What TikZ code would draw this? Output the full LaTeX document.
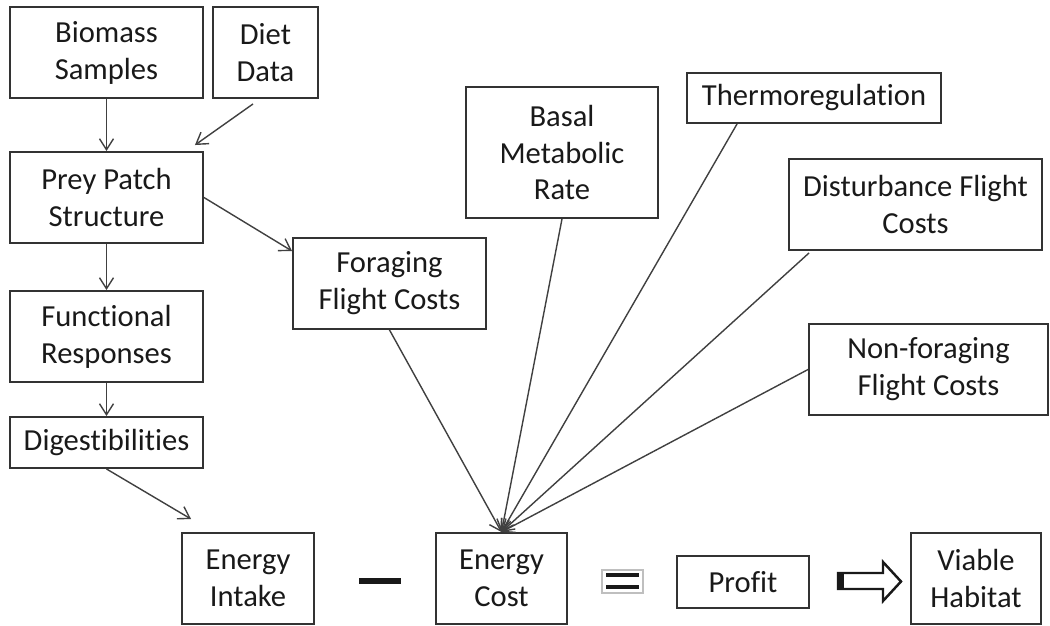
\documentclass[tikz,border=0pt]{standalone}
\usepackage{fontspec}
\setmainfont{Carlito}[Ligatures=NoCommon]
\usetikzlibrary{arrows.meta}

\begin{document}
\begin{tikzpicture}[x=0.2mm, y=-0.2mm,
        box/.style={draw=black!80, line width=1.1pt, inner sep=0pt, align=center,
            minimum height=18.2mm, text=black!90, font=\fontsize{17.4}{21}\selectfont},
        link/.style={color=black!75, line width=0.8pt,
            -{Straight Barb[length=2.2mm,width=2.8mm]}}]
        \useasboundingbox (0,0) rectangle (1050,626);

        % Define data and intake boxes
        \node[box, minimum width=38.6mm] (Biomass) at (106.5,52.5) {Biomass\\Samples};
        \node[box, minimum width=21mm] (Diet) at (265.5,52.5) {Diet\\Data};
        \node[box, minimum width=38.6mm] (Prey) at (106.5,197.5) {Prey Patch\\Structure};
        \node[box, minimum width=38.6mm] (Func) at (106.5,336.5) {Functional\\Responses};
        \node[box, minimum width=38.6mm, minimum height=10.2mm] (Digest) at (106.5,442.5) {Digestibilities};

        % Define cost boxes
        \node[box, minimum width=38.6mm] (Forage) at (389.5,283.5) {Foraging\\Flight Costs};
        \node[box, minimum width=38.4mm, minimum height=26.2mm] (Basal) at (562,152.5) {Basal\\Metabolic\\Rate};
        \node[box, minimum width=50.8mm, minimum height=10mm] (Thermo) at (814,98) {Thermoregulation};
        \node[box, minimum width=50.6mm] (Disturb) at (915.5,204.5) {Disturbance Flight\\Costs};
        \node[box, minimum width=47.8mm] (NonForage) at (928.5,369.5) {Non-foraging\\Flight Costs};

        % Define bottom row
        \node[box, minimum width=26.4mm] (Intake) at (248,578.5) {Energy\\Intake};
        \node[box, minimum width=26.2mm] (Cost) at (501.5,578.5) {Energy\\Cost};
        \node[box, minimum width=26.4mm, minimum height=10.4mm] (Profit) at (743,582) {Profit};
        \node[box, minimum width=26mm] (Viable) at (976,578.5) {Viable\\Habitat};

        \path[link]
        % For intake side
        (Biomass) edge (Prey)
        ([xshift=-2.5mm,yshift=-1mm]Diet.south) edge ([xshift=-1.8mm,yshift=1.2mm]Prey.north east)
        (Prey) edge (Func)
        (Func) edge (Digest)
        (Digest.south) edge ([xshift=2mm,yshift=2.6mm]Intake.north west)
        (Prey.east) edge ([yshift=-2.8mm]Forage.north west)
        % For cost side
        (Forage.south) edge (Cost.north)
        (Basal.south) edge (Cost.north)
        ([xshift=10.2mm]Thermo.south west) edge (Cost.north)
        ([xshift=4.2mm,yshift=-0.4mm]Disturb.south west) edge (Cost.north)
        (NonForage.west) edge (Cost.north);

        % Minus, equals and implies signs
        \draw[black!90, line width=3.4pt] (359,581) -- (401,581);
        \draw[black!25, line width=0.6pt] (602,570) rectangle (643,593);
        \draw[black!90, line width=2.3pt] (606,575) -- (639,575) (606,587) -- (639,587);
        \draw[black!90, line width=1.4pt, line join=miter]
            (838,573) -- (883,573) -- (883,562) -- (901,581.5) -- (883,601) -- (883,589) -- (838,589) -- cycle;
        \fill[black!90] (838,573) rectangle (844,589);

    \end{tikzpicture}
\end{document}
